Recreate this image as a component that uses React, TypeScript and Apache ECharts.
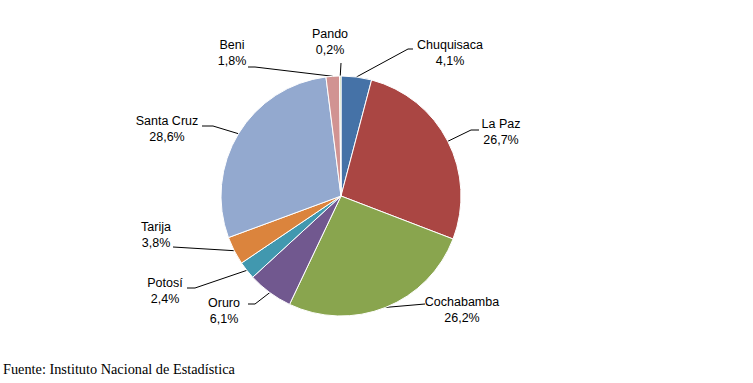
import { useEffect, useRef } from 'react';
import * as echarts from 'echarts';

const categories = ['Chuquisaca', 'La Paz', 'Cochabamba', 'Oruro', 'Potosí', 'Tarija', 'Santa Cruz', 'Beni', 'Pando'];
const shares = [4.1, 26.7, 26.2, 6.1, 2.4, 3.8, 28.6, 1.8, 0.2];
const sourceNote = 'Fuente: Instituto Nacional de Estadística';

const colors = ['#4572A7', '#AA4643', '#89A54E', '#71588F', '#4198AF', '#DB843D', '#93A9CF', '#D19392', '#BCCF9C'];

// label placement (centre of each label block) and the end of each leader line
const labelCenters = [[450, 53], [501, 132], [462, 310], [224, 311], [165, 291], [156, 235], [167, 129], [232, 53], [330, 42]];
const lineEnds = [[413, 49], [479, 130], [425, 304], [248, 304], [187, 288], [173, 247], [202, 126], [248, 67], [341, 63]];
const elbowLen = [5, 8, 0, 7, 8, 0, 11, 7, 0];

export default function App() {
  const ref = useRef<HTMLDivElement>(null);
  useEffect(() => {
    if (!ref.current) return;
    const chart = echarts.init(ref.current, null, { renderer: 'svg' });
    const fmt = (v: number) => v.toFixed(1).replace('.', ',') + '%';
    chart.setOption({
      animation: false,
      backgroundColor: '#ffffff',
      title: {
        text: sourceNote,
        left: 3,
        top: 362,
        padding: 0,
        textStyle: { fontFamily: 'Liberation Serif', fontSize: 14.3, fontWeight: 'normal', color: '#000' },
      },
      series: [
        {
          type: 'pie',
          center: [341, 196],
          radius: 120,
          startAngle: 90,
          clockwise: true,
          avoidLabelOverlap: false,
          data: categories.map((c, i) => ({ name: c, value: shares[i], itemStyle: { color: colors[i] } })),
          itemStyle: { borderColor: '#ffffff', borderWidth: 1 },
          label: {
            show: true,
            position: 'outside',
            formatter: (p: any) => `${p.name}\n${fmt(p.value)}`,
            fontFamily: 'Liberation Sans',
            fontSize: 12.5,
            lineHeight: 16,
            color: '#000',
            align: 'center',
          },
          labelLine: { show: true, length: 10, length2: 10, lineStyle: { color: '#000', width: 1 } },
          labelLayout: (params: any) => {
            const i = params.dataIndex;
            const c = labelCenters[i];
            const e = lineEnds[i];
            const p0 = params.labelLinePoints ? params.labelLinePoints[0] : e;
            const dir = e[0] < 341 ? 1 : -1;
            const elbow = [e[0] + dir * elbowLen[i], e[1]];
            return {
              x: c[0],
              y: c[1],
              align: 'center',
              verticalAlign: 'middle',
              labelLinePoints: [p0, elbow, e],
            };
          },
          emphasis: { disabled: true },
        },
      ],
    });
    return () => chart.dispose();
  }, []);
  return <div ref={ref} style={{ position: 'fixed', left: 0, top: 0, width: 753, height: 383, background: '#fff' }} />;
}
